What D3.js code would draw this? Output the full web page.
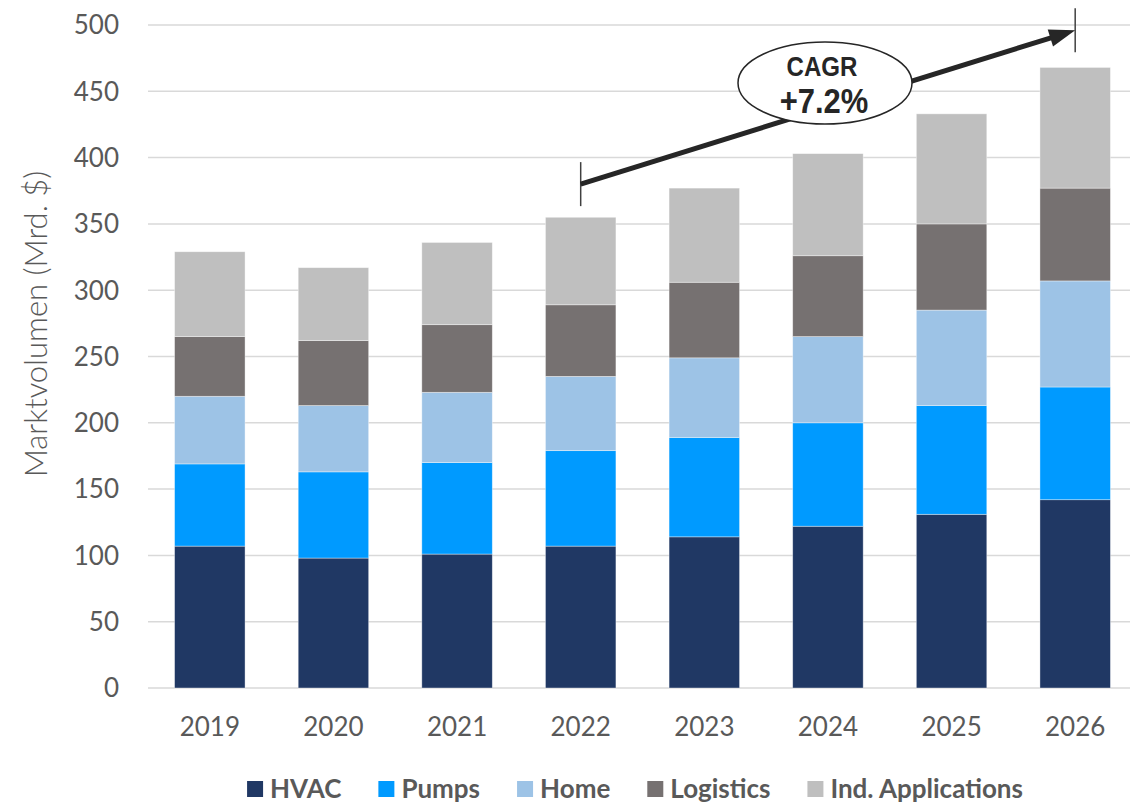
<!DOCTYPE html>
<html>
<head>
<meta charset="utf-8">
<script src="https://cdn.jsdelivr.net/npm/d3@7"></script>
<style>
  body { margin: 0; background: #fff; }
  svg { display: block; }
</style>
</head>
<body>
<div id="chart"></div>
<script>
// years on the x axis
var years = ["2019", "2020", "2021", "2022", "2023", "2024", "2025", "2026"];

// segment values, Mrd. $
var hvac      = [107,  98, 101, 107, 114, 122, 131, 142];
var pumps     = [ 62,  65,  69,  72,  75,  78,  82,  85];
var home      = [ 51,  50,  53,  56,  60,  65,  72,  80];
var logistics = [ 45,  49,  51,  54,  57,  61,  65,  70];
var indApps   = [ 64,  55,  62,  66,  71,  77,  83,  91];

var seriesNames = ["HVAC", "Pumps", "Home", "Logistics", "Ind. Applications"];
var yTicks = [0, 50, 100, 150, 200, 250, 300, 350, 400, 450, 500];

// CAGR arrow, from the 2022 bar to the 2026 bar
var cagrLabel = ["CAGR", "+7.2%"];
var cagrFrom = { year: "2022", value: 380 };
var cagrTo = { year: "2026", value: 496 };

var colors = ["#203864", "#009AFF", "#9DC3E6", "#767171", "#BFBFBF"];

var width = 1130, height = 803;

var svg = d3.select("#chart").append("svg")
  .attr("width", width)
  .attr("height", height);

var rows = years.map(function(y, i) {
  return {
    year: y,
    "HVAC": hvac[i],
    "Pumps": pumps[i],
    "Home": home[i],
    "Logistics": logistics[i],
    "Ind. Applications": indApps[i]
  };
});

var x = d3.scaleBand()
  .domain(years)
  .range([148, 1137])
  .paddingInner(0.43)
  .paddingOuter(0.215);

var y = d3.scaleLinear()
  .domain([0, 500])
  .range([688, 25]);

// gridlines
svg.append("g")
  .selectAll("line")
  .data(yTicks)
  .enter().append("line")
  .attr("x1", 148)
  .attr("x2", width)
  .attr("y1", function(d) { return y(d); })
  .attr("y2", function(d) { return y(d); })
  .style("stroke", "#D9D9D9")
  .style("stroke-width", 1.5);

// y tick labels
svg.append("g")
  .selectAll("text")
  .data(yTicks)
  .enter().append("text")
  .attr("x", 119)
  .attr("y", function(d) { return y(d); })
  .attr("dy", "0.36em")
  .attr("text-anchor", "end")
  .style("font-family", "Lato, sans-serif")
  .style("font-size", "26px")
  .style("fill", "#595959")
  .text(function(d) { return d; });

// y title
svg.append("text")
  .attr("transform", "translate(47,324) rotate(-90)")
  .attr("text-anchor", "middle")
  .style("font-family", "Lato, sans-serif")
  .style("font-size", "31px")
  .style("font-weight", 300)
  .style("fill", "#595959")
  .text("Marktvolumen (Mrd. $)");

// stacked bars
var stack = d3.stack().keys(seriesNames);
var layers = stack(rows);

svg.append("g")
  .selectAll("g")
  .data(layers)
  .enter().append("g")
  .style("fill", function(d, i) { return colors[i]; })
  .selectAll("rect")
  .data(function(d) { return d; })
  .enter().append("rect")
  .attr("x", function(d) { return x(d.data.year); })
  .attr("width", x.bandwidth())
  .attr("y", function(d) { return y(d[1]); })
  .attr("height", function(d) { return y(d[0]) - y(d[1]); })
  .style("stroke", "#ffffff")
  .style("stroke-opacity", 0.5)
  .style("stroke-width", 0.75);

// x labels
svg.append("g")
  .selectAll("text")
  .data(years)
  .enter().append("text")
  .attr("x", function(d) { return x(d) + x.bandwidth() / 2; })
  .attr("y", 727)
  .attr("dy", "0.36em")
  .attr("text-anchor", "middle")
  .style("font-family", "Lato, sans-serif")
  .style("font-size", "26px")
  .style("fill", "#595959")
  .text(function(d) { return d; });

// CAGR arrow
var ax1 = x(cagrFrom.year) + x.bandwidth() / 2,
  ay1 = y(cagrFrom.value),
  ax2 = x(cagrTo.year) + x.bandwidth() / 2,
  ay2 = y(cagrTo.value);

var ang = Math.atan2(ay2 - ay1, ax2 - ax1);
var headLen = 26, headHalf = 9;

var ann = svg.append("g");

ann.append("line")
  .attr("x1", ax1).attr("y1", ay1 - 22)
  .attr("x2", ax1).attr("y2", ay1 + 22)
  .style("stroke", "#404040")
  .style("stroke-width", 1.5);

ann.append("line")
  .attr("x1", ax2).attr("y1", ay2 - 22)
  .attr("x2", ax2).attr("y2", ay2 + 22)
  .style("stroke", "#404040")
  .style("stroke-width", 1.5);

ann.append("line")
  .attr("x1", ax1)
  .attr("y1", ay1)
  .attr("x2", ax2 - Math.cos(ang) * (headLen - 4))
  .attr("y2", ay2 - Math.sin(ang) * (headLen - 4))
  .style("stroke", "#262626")
  .style("stroke-width", 5);

var bx = ax2 - Math.cos(ang) * headLen,
  by = ay2 - Math.sin(ang) * headLen;
ann.append("path")
  .attr("d", "M" + ax2 + "," + ay2 +
    "L" + (bx - Math.sin(ang) * headHalf) + "," + (by + Math.cos(ang) * headHalf) +
    "L" + (bx + Math.sin(ang) * headHalf) + "," + (by - Math.cos(ang) * headHalf) + "Z")
  .style("fill", "#262626");

ann.append("ellipse")
  .attr("cx", 825)
  .attr("cy", 83)
  .attr("rx", 87)
  .attr("ry", 41)
  .style("fill", "#ffffff")
  .style("stroke", "#262626")
  .style("stroke-width", 1.5);

// narrow bold labels, squeezed horizontally
ann.append("text")
  .attr("transform", "translate(822,76) scale(0.86,1)")
  .attr("text-anchor", "middle")
  .style("font-family", "'Liberation Sans', Arial, sans-serif")
  .style("font-weight", "bold")
  .style("font-size", "28px")
  .style("fill", "#262626")
  .text(cagrLabel[0]);

ann.append("text")
  .attr("transform", "translate(824,113) scale(0.86,1)")
  .attr("text-anchor", "middle")
  .style("font-family", "'Liberation Sans', Arial, sans-serif")
  .style("font-weight", "bold")
  .style("font-size", "36px")
  .style("fill", "#262626")
  .text(cagrLabel[1]);

// legend
var legend = svg.append("g");
var lx = 0;
seriesNames.forEach(function(name, i) {
  var item = legend.append("g").attr("transform", "translate(" + lx + ",0)");
  item.append("rect")
    .attr("x", 0)
    .attr("y", -8)
    .attr("width", 16)
    .attr("height", 16)
    .style("fill", colors[i]);
  var t = item.append("text")
    .attr("x", 23)
    .attr("y", 0)
    .attr("dy", "0.36em")
    .style("font-family", "Lato, sans-serif")
    .style("font-weight", "bold")
    .style("font-size", "26px")
    .style("fill", "#595959")
    .text(name);
  lx += 23 + t.node().getComputedTextLength() + 37;
});
var legendW = lx - 37;
legend.attr("transform", "translate(" + (635 - legendW / 2) + ",789)");
</script>
</body>
</html>
